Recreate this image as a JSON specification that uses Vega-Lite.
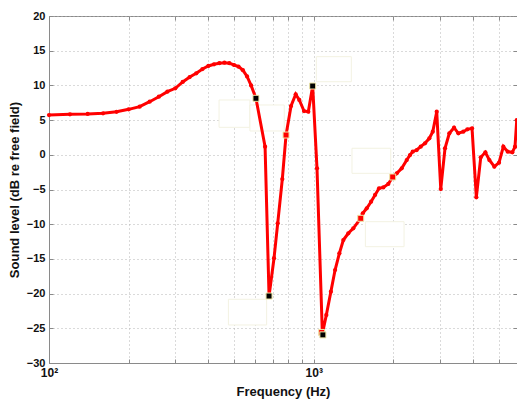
{
  "$schema": "https://vega.github.io/schema/vega-lite/v6.json",
  "width": 468,
  "height": 347,
  "autosize": {"type": "none"},
  "padding": {"left": 49, "top": 16, "right": 0, "bottom": 36},
  "background": "white",
  "config": {
    "view": {"stroke": "#8a8a8a", "strokeWidth": 1},
    "font": "Liberation Sans",
    "axis": {
      "labelFont": "Liberation Sans",
      "labelFontWeight": "bold",
      "labelFontSize": 11,
      "labelColor": "#111",
      "titleFont": "Liberation Sans",
      "titleFontWeight": "bold",
      "titleFontSize": 13,
      "titleColor": "#111",
      "domainColor": "#8a8a8a",
      "tickColor": "#8a8a8a"
    }
  },
  "datasets": {
    "curve": [
      {"f": 100, "db": 5.73}, {"f": 120, "db": 5.83}, {"f": 140, "db": 5.88}, {"f": 160, "db": 5.98},
      {"f": 180, "db": 6.2}, {"f": 200, "db": 6.55}, {"f": 220, "db": 6.93}, {"f": 240, "db": 7.65},
      {"f": 260, "db": 8.37}, {"f": 280, "db": 9.1}, {"f": 300, "db": 9.58}, {"f": 320, "db": 10.5},
      {"f": 340, "db": 11.2}, {"f": 360, "db": 11.74}, {"f": 380, "db": 12.36}, {"f": 400, "db": 12.8},
      {"f": 420, "db": 13.04}, {"f": 440, "db": 13.2}, {"f": 460, "db": 13.27}, {"f": 480, "db": 13.2},
      {"f": 500, "db": 12.94}, {"f": 520, "db": 12.7}, {"f": 540, "db": 12.2}, {"f": 560, "db": 11.3},
      {"f": 580, "db": 10.0}, {"f": 605, "db": 8.14}, {"f": 655, "db": 1.17}, {"f": 678, "db": -20.35},
      {"f": 708, "db": -14.9}, {"f": 731, "db": -9.88}, {"f": 761, "db": -3.49}, {"f": 786, "db": 2.85},
      {"f": 821, "db": 7.03}, {"f": 855, "db": 8.72}, {"f": 882, "db": 7.9}, {"f": 919, "db": 6.31},
      {"f": 954, "db": 6.21}, {"f": 991, "db": 9.91}, {"f": 1029, "db": -1.95}, {"f": 1078, "db": -25.8},
      {"f": 1116, "db": -23.08}, {"f": 1161, "db": -19.72}, {"f": 1204, "db": -16.6}, {"f": 1250, "db": -14.2},
      {"f": 1294, "db": -12.28}, {"f": 1351, "db": -11.31}, {"f": 1411, "db": -10.6}, {"f": 1505, "db": -9.15},
      {"f": 1532, "db": -8.43}, {"f": 1586, "db": -7.71}, {"f": 1647, "db": -6.76}, {"f": 1705, "db": -5.79},
      {"f": 1765, "db": -4.83}, {"f": 1832, "db": -4.7}, {"f": 1913, "db": -4.2}, {"f": 1988, "db": -3.2},
      {"f": 2059, "db": -2.67}, {"f": 2150, "db": -1.95}, {"f": 2246, "db": -0.75}, {"f": 2311, "db": -0.03},
      {"f": 2366, "db": 0.45}, {"f": 2449, "db": 0.69}, {"f": 2536, "db": 1.17}, {"f": 2633, "db": 1.66},
      {"f": 2734, "db": 2.38}, {"f": 2816, "db": 3.33}, {"f": 2915, "db": 6.21}, {"f": 3019, "db": -4.93},
      {"f": 3133, "db": 0.94}, {"f": 3253, "db": 3.1}, {"f": 3389, "db": 3.91}, {"f": 3518, "db": 3.1},
      {"f": 3674, "db": 3.33}, {"f": 3805, "db": 3.67}, {"f": 3963, "db": 3.82}, {"f": 4114, "db": -6.12},
      {"f": 4275, "db": -0.36}, {"f": 4450, "db": 0.36}, {"f": 4607, "db": -0.75}, {"f": 4812, "db": -1.71},
      {"f": 5012, "db": -1.14}, {"f": 5204, "db": 1.17}, {"f": 5407, "db": 0.45}, {"f": 5627, "db": 0.36},
      {"f": 5760, "db": 1.17}, {"f": 5847, "db": 5.0}
    ],
    "markers": [
      {"f": 605, "db": 8.14, "kind": "black"},
      {"f": 678, "db": -20.35, "kind": "black"},
      {"f": 991, "db": 9.91, "kind": "black"},
      {"f": 786, "db": 2.85, "kind": "red"},
      {"f": 1505, "db": -9.15, "kind": "red"},
      {"f": 1988, "db": -3.2, "kind": "red"},
      {"f": 1072, "db": -25.6, "kind": "red"},
      {"f": 1083, "db": -25.95, "kind": "black"}
    ],
    "boxes": [
      {"f1": 439, "f2": 574, "d1": 7.9, "d2": 3.96},
      {"f1": 574, "f2": 774, "d1": 7.18, "d2": 3.43},
      {"f1": 1023, "f2": 1387, "d1": 14.14, "d2": 10.53},
      {"f1": 1395, "f2": 1954, "d1": 0.94, "d2": -2.67},
      {"f1": 1567, "f2": 2194, "d1": -9.64, "d2": -13.24},
      {"f1": 476, "f2": 664, "d1": -20.82, "d2": -24.52}
    ]
  },
  "resolve": {"axis": {"x": "independent", "y": "independent"}},
  "layer": [
    {
      "data": {"name": "boxes"},
      "mark": {"type": "rect", "fill": "#ffffff", "stroke": "#f3f2e2", "strokeWidth": 1},
      "encoding": {
        "x": {
          "field": "f1", "type": "quantitative",
          "scale": {"type": "log", "domain": [100, 5860], "nice": false},
          "axis": {
            "orient": "bottom",
            "values": [100, 200, 300, 400, 500, 600, 700, 800, 900, 1000, 2000, 3000, 4000, 5000],
            "labelExpr": "datum.value == 100 ? '10²' : (datum.value == 1000 ? '10³' : '')",
            "grid": true, "gridDash": [1, 3], "gridColor": "#b4b4b4",
            "tickSize": -4, "labelPadding": 8, "labelFontSize": 12,
            "title": "Frequency (Hz)", "titlePadding": 7,
            "labelFlush": false, "labelOverlap": false
          }
        },
        "x2": {"field": "f2"},
        "y": {
          "field": "d1", "type": "quantitative",
          "scale": {"domain": [-30, 20], "nice": false, "zero": false},
          "axis": {
            "orient": "left",
            "values": [-30, -25, -20, -15, -10, -5, 0, 5, 10, 15, 20],
            "grid": true, "gridDash": [1, 3], "gridColor": "#b4b4b4",
            "tickSize": -4, "labelPadding": 8,
            "title": "Sound level (dB re free field)", "titlePadding": 5,
            "labelFlush": false, "labelOverlap": false
          }
        },
        "y2": {"field": "d2"}
      }
    },
    {
      "data": {"name": "curve"},
      "mark": {"type": "line", "color": "#ff0000", "strokeWidth": 3,
               "point": {"filled": true, "color": "#ff0000", "size": 18}},
      "encoding": {
        "x": {"field": "f", "type": "quantitative",
              "axis": {"orient": "top", "values": [100, 200, 300, 400, 500, 600, 700, 800, 900, 1000, 2000, 3000, 4000, 5000],
                       "labels": false, "grid": false, "tickSize": -4, "title": null, "domain": false}},
        "y": {"field": "db", "type": "quantitative",
              "axis": {"orient": "right", "values": [-30, -25, -20, -15, -10, -5, 0, 5, 10, 15, 20],
                       "labels": false, "grid": false, "tickSize": -4, "title": null, "domain": false}}
      }
    },
    {
      "data": {"name": "markers"},
      "mark": {"type": "point", "shape": "square", "filled": true, "size": 36, "stroke": "#eee6a8", "strokeWidth": 1, "opacity": 1},
      "encoding": {
        "x": {"field": "f", "type": "quantitative", "axis": null},
        "y": {"field": "db", "type": "quantitative", "axis": null},
        "fill": {"field": "kind", "type": "nominal",
                 "scale": {"domain": ["black", "red"], "range": ["#000000", "#ff0000"]}, "legend": null}
      }
    }
  ]
}
